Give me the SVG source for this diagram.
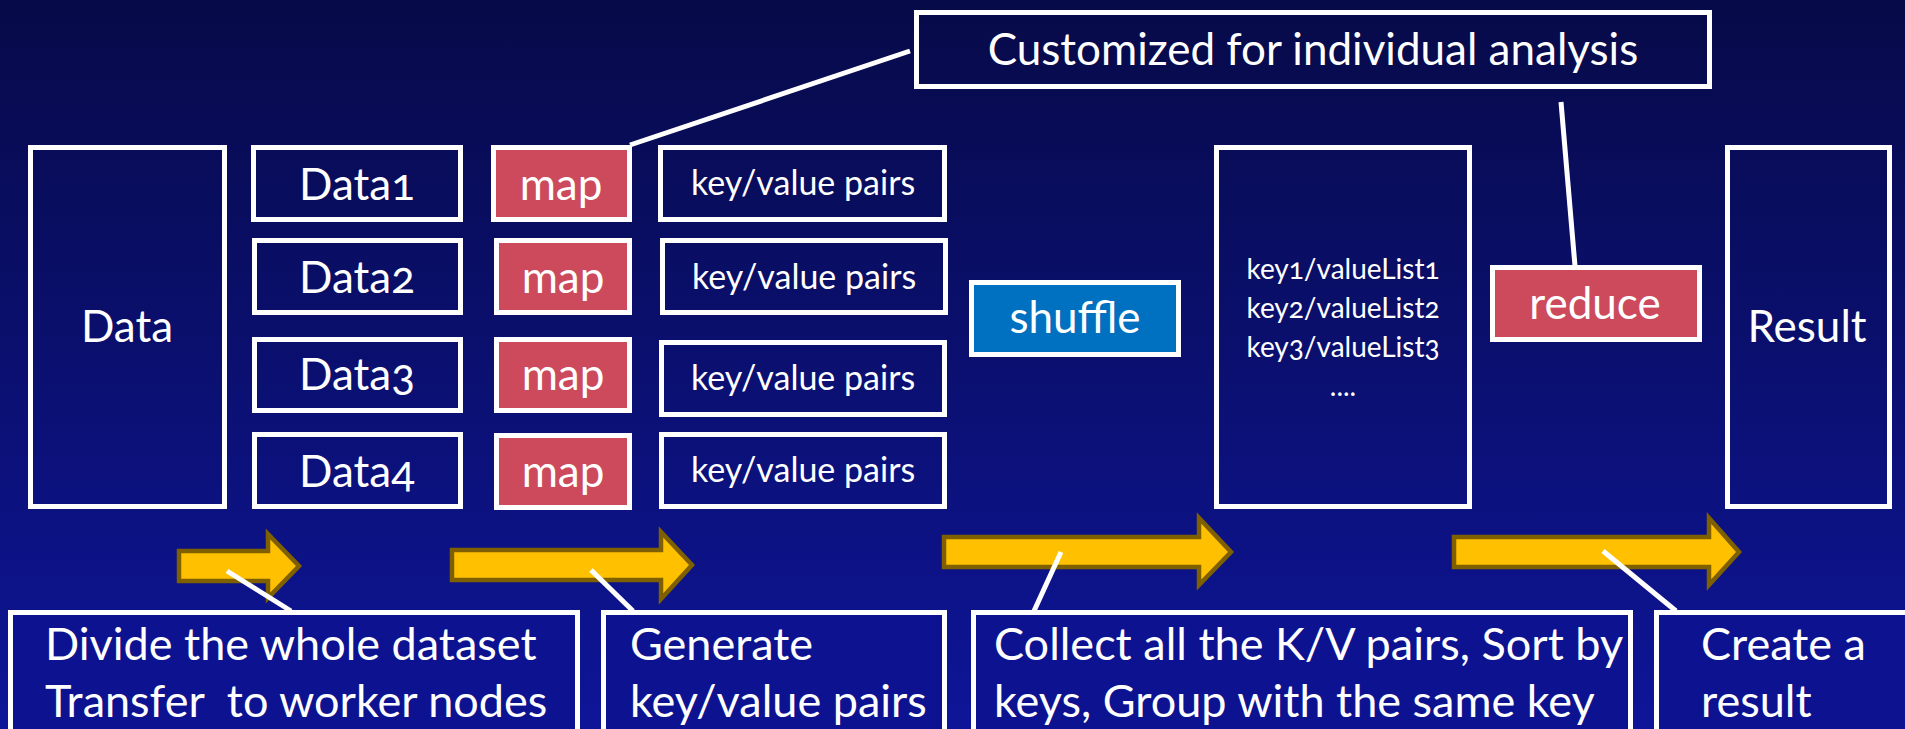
<svg xmlns="http://www.w3.org/2000/svg" width="1905" height="729" viewBox="0 0 1905 729">
  <defs>
    <linearGradient id="bg" x1="0" y1="0" x2="0" y2="1">
      <stop offset="0" stop-color="#070A48"/>
      <stop offset="1" stop-color="#0E1598"/>
    </linearGradient>
    <style>
      .box{fill:none;stroke:#FFFFFF;stroke-width:5}
      .red{fill:#CC4A5C;stroke:#FFFFFF;stroke-width:5}
      .blue{fill:#0070C0;stroke:#FFFFFF;stroke-width:5}
      .note{fill:#0D1390;stroke:#FFFFFF;stroke-width:5}
      .arrow{fill:#FFC000;stroke:#7F6000;stroke-width:4.5;stroke-linejoin:miter}
      .line{stroke:#FFFFFF;stroke-width:5;fill:none}
      text{font-family:Lato,"Open Sans","Liberation Sans",sans-serif;fill:#FFFFFF;font-variant-numeric:oldstyle-nums}
      .big{font-size:44px;text-anchor:middle}
      .kv{font-size:34px;text-anchor:middle}
      .small{font-size:28px;text-anchor:middle}
      .desc{font-size:45px}
    </style>
  </defs>
  <rect x="0" y="0" width="1905" height="729" fill="url(#bg)"/>

  <g id="connectors">
    <polygon class="arrow" points="179,551 268,551 268,534 299,566 268,598 268,581 179,581"/>
    <polygon class="arrow" points="452,550 661,550 661,532 692,565 661,599 661,580 452,580"/>
    <polygon class="arrow" points="944,537 1199,537 1199,518 1231,552 1199,585 1199,567 944,567"/>
    <polygon class="arrow" points="1454,537 1709,537 1709,518 1739,552 1709,585 1709,567 1454,567"/>
    <line class="line" x1="227" y1="571" x2="291" y2="611"/>
    <line class="line" x1="591" y1="570" x2="633" y2="611"/>
    <line class="line" x1="1061" y1="552" x2="1034" y2="611"/>
    <line class="line" x1="1603" y1="551" x2="1676" y2="611"/>
    <line class="line" x1="910" y1="51" x2="630" y2="145"/>
    <line class="line" x1="1561" y1="102" x2="1575" y2="266"/>
  </g>

  <g id="data">
    <rect class="box" x="30.5" y="147.5" width="194" height="359"/>
    <text class="big" x="127" y="342" font-size="42">Data</text>
  </g>
  <g id="data1">
    <rect class="box" x="253.5" y="147.5" width="207" height="72"/>
    <text class="big" x="357" y="200">Data1</text>
  </g>
  <g id="data2">
    <rect class="box" x="254.5" y="240.5" width="206" height="72"/>
    <text class="big" x="357" y="293">Data2</text>
  </g>
  <g id="data3">
    <rect class="box" x="254.5" y="339.5" width="206" height="71"/>
    <text class="big" x="357" y="390">Data3</text>
  </g>
  <g id="data4">
    <rect class="box" x="254.5" y="434.5" width="206" height="72"/>
    <text class="big" x="357" y="487">Data4</text>
  </g>

  <g id="map1">
    <rect class="red" x="493.5" y="147.5" width="136" height="72"/>
    <text class="big" x="561" y="200">map</text>
  </g>
  <g id="map2">
    <rect class="red" x="496.5" y="240.5" width="133" height="72"/>
    <text class="big" x="563" y="293">map</text>
  </g>
  <g id="map3">
    <rect class="red" x="496.5" y="339.5" width="133" height="71"/>
    <text class="big" x="563" y="390">map</text>
  </g>
  <g id="map4">
    <rect class="red" x="496.5" y="435.5" width="133" height="72"/>
    <text class="big" x="563" y="487">map</text>
  </g>

  <g id="kv1">
    <rect class="box" x="660.5" y="147.5" width="284" height="72"/>
    <text class="kv" x="803" y="195">key/value pairs</text>
  </g>
  <g id="kv2">
    <rect class="box" x="662.5" y="240.5" width="283" height="72"/>
    <text class="kv" x="804" y="289">key/value pairs</text>
  </g>
  <g id="kv3">
    <rect class="box" x="661.5" y="342.5" width="283" height="72"/>
    <text class="kv" x="803" y="390">key/value pairs</text>
  </g>
  <g id="kv4">
    <rect class="box" x="661.5" y="434.5" width="283" height="72"/>
    <text class="kv" x="803" y="482">key/value pairs</text>
  </g>

  <g id="shuffle">
    <rect class="blue" x="971.5" y="282.5" width="207" height="72"/>
    <text class="big" x="1075" y="333">shuffle</text>
  </g>

  <g id="grouped">
    <rect class="box" x="1216.5" y="147.5" width="253" height="359"/>
    <text class="small" x="1343" y="279">key1/valueList1</text>
    <text class="small" x="1343" y="318">key2/valueList2</text>
    <text class="small" x="1343" y="357">key3/valueList3</text>
    <text class="small" x="1343" y="396">....</text>
  </g>

  <g id="reduce">
    <rect class="red" x="1492.5" y="267.5" width="207" height="72"/>
    <text class="big" x="1595" y="319">reduce</text>
  </g>

  <g id="result">
    <rect class="box" x="1727.5" y="147.5" width="162" height="359"/>
    <text class="big" x="1807" y="342">Result</text>
  </g>

  <g id="note-custom">
    <rect class="box" x="916.5" y="12.5" width="793" height="74"/>
    <text class="big" x="1313" y="65" font-size="46">Customized for individual analysis</text>
  </g>

  <g id="note-divide">
    <rect class="note" x="10.5" y="612.5" width="567" height="130"/>
    <text class="desc" x="45" y="660">Divide the whole dataset</text>
    <text class="desc" x="45" y="717" xml:space="preserve">Transfer  to worker nodes</text>
  </g>
  <g id="note-generate">
    <rect class="note" x="603.5" y="612.5" width="341" height="130"/>
    <text class="desc" x="630" y="660">Generate</text>
    <text class="desc" x="630" y="717">key/value pairs</text>
  </g>
  <g id="note-collect">
    <rect class="note" x="973.5" y="612.5" width="657" height="130"/>
    <text class="desc" x="994" y="660">Collect all the K/V pairs, Sort by</text>
    <text class="desc" x="994" y="717">keys, Group with the same key</text>
  </g>
  <g id="note-create">
    <rect class="note" x="1656.5" y="612.5" width="280" height="130"/>
    <text class="desc" x="1701" y="660">Create a</text>
    <text class="desc" x="1701" y="717">result</text>
  </g>
</svg>
